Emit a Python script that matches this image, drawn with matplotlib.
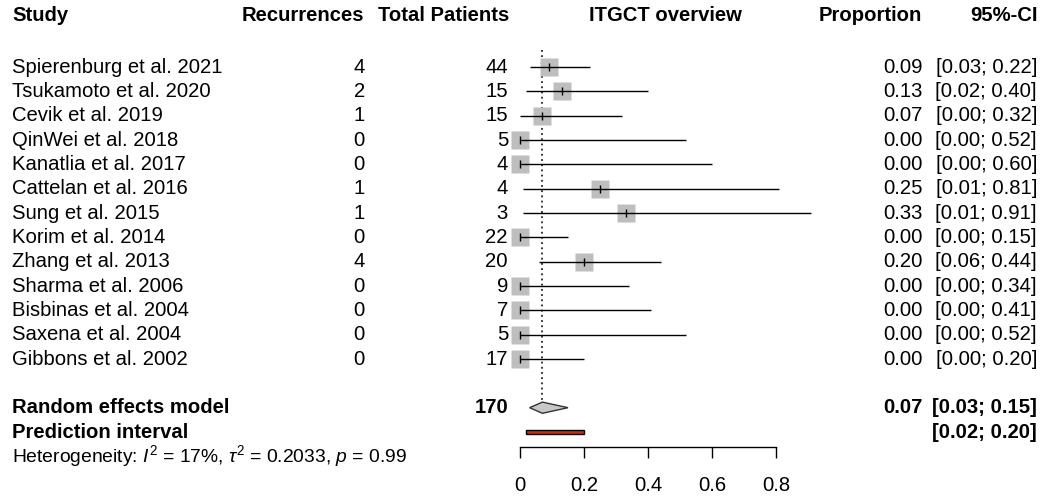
import matplotlib
matplotlib.use("Agg")
import matplotlib.pyplot as plt
import matplotlib.transforms as mtransforms

plt.rcParams["font.family"] = ["Liberation Sans", "DejaVu Sans"]
plt.rcParams["mathtext.fontset"] = "custom"
plt.rcParams["mathtext.rm"] = "Liberation Sans"
plt.rcParams["mathtext.it"] = "Liberation Sans:italic"

# --- data ---
studies = [
    "Spierenburg et al. 2021", "Tsukamoto et al. 2020", "Cevik et al. 2019",
    "QinWei et al. 2018", "Kanatlia et al. 2017", "Cattelan et al. 2016",
    "Sung et al. 2015", "Korim et al. 2014", "Zhang et al. 2013",
    "Sharma et al. 2006", "Bisbinas et al. 2004", "Saxena et al. 2004",
    "Gibbons et al. 2002",
]
events = [4, 2, 1, 0, 0, 1, 1, 0, 4, 0, 0, 0, 0]
totals = [44, 15, 15, 5, 4, 4, 3, 22, 20, 9, 7, 5, 17]
props = [0.09, 0.13, 0.07, 0.00, 0.00, 0.25, 0.33, 0.00, 0.20, 0.00, 0.00, 0.00, 0.00]
lower = [0.03, 0.02, 0.00, 0.00, 0.00, 0.01, 0.01, 0.00, 0.06, 0.00, 0.00, 0.00, 0.00]
upper = [0.22, 0.40, 0.32, 0.52, 0.60, 0.81, 0.91, 0.15, 0.44, 0.34, 0.41, 0.52, 0.20]

re_est, re_lo, re_hi = 0.07, 0.03, 0.15
pi_lo, pi_hi = 0.02, 0.20
total_n = 170
het_text = r"Heterogeneity: $I^2$ = 17%, $\tau^2$ = 0.2033, $p$ = 0.99"
xticks = [0, 0.2, 0.4, 0.6, 0.8]
xticklabels = ["0", "0.2", "0.4", "0.6", "0.8"]

# --- layout ---
W, H = 1058, 497
FS = 14.6
fig = plt.figure(figsize=(W / 100, H / 100), dpi=100)
ax = fig.add_axes([0, 0, 1, 1])
ax.set_xlim(-1.625, 1.68125)
ax.set_ylim(17.67, -2.754)
ax.axis("off")

tr = mtransforms.blended_transform_factory(fig.transFigure, ax.transData)

def col(xpx):
    return xpx / W

rows = list(range(len(studies)))
row_re = len(studies) + 1
row_pi = row_re + 1
row_het = row_pi + 1
row_head = -2.12

# headers
hdr = dict(fontsize=FS, fontweight="bold", va="center", transform=tr)
ax.text(col(12), row_head, "Study", ha="left", **hdr)
ax.text(col(364), row_head, "Recurrences", ha="right", **hdr)
ax.text(col(509), row_head, "Total Patients", ha="right", **hdr)
ax.text(col(665), row_head, "ITGCT overview", ha="center", **hdr)
ax.text(col(922), row_head, "Proportion", ha="right", **hdr)
ax.text(col(1038), row_head, "95%-CI", ha="right", **hdr)

# study rows
txt = dict(fontsize=FS, va="center", transform=tr)
for r, s, e, n, p, lo, hi in zip(rows, studies, events, totals, props, lower, upper):
    ax.text(col(12), r, s, ha="left", **txt)
    ax.text(col(365), r, str(e), ha="right", **txt)
    ax.text(col(508), r, str(n), ha="right", **txt)
    ax.text(col(923), r, f"{p:.2f}", ha="right", **txt)
    ax.text(col(1037), r, f"[{lo:.2f}; {hi:.2f}]", ha="right", **txt)

# reference line at pooled estimate
ax.plot([re_est, re_est], [-0.7, row_re - 0.23], color="black", lw=1.1,
        ls=(0, (1.2, 2.2)), zorder=1)

# squares + CIs
ax.plot(props, rows, ls="none", marker="s", markersize=13.2,
        color="#bebebe", mec="none", zorder=2)
ax.hlines(rows, lower, upper, color="black", lw=1.0, zorder=3)
ax.plot(props, rows, ls="none", marker="|", markersize=6, mew=1.0,
        color="black", zorder=4)

# random effects diamond
ax.fill([re_lo, re_est, re_hi, re_est], [row_re, row_re - 0.23, row_re, row_re + 0.23],
        facecolor="#c8c8c8", edgecolor="#333333", lw=1.0, zorder=3)
bold = dict(fontsize=FS, fontweight="bold", va="center", transform=tr)
ax.text(col(12), row_re, "Random effects model", ha="left", **bold)
ax.text(col(509), row_re, str(total_n), ha="right", **bold)
ax.text(col(923), row_re, f"{re_est:.2f}", ha="right", **bold)
ax.text(col(1037), row_re, f"[{re_lo:.2f}; {re_hi:.2f}]", ha="right", **bold)

# prediction interval
ax.fill([pi_lo, pi_hi, pi_hi, pi_lo],
        [row_pi - 0.1, row_pi - 0.1, row_pi + 0.1, row_pi + 0.1],
        facecolor="#d42a00", edgecolor="black", lw=1.0, zorder=3)
ax.text(col(12), row_pi, "Prediction interval", ha="left", **bold)
ax.text(col(1037), row_pi, f"[{pi_lo:.2f}; {pi_hi:.2f}]", ha="right", **bold)

# heterogeneity
ax.text(col(12), row_het, het_text, ha="left", fontsize=FS - 0.7, va="center", transform=tr)

# x axis
y_axis = 15.62
ax.plot([xticks[0], xticks[-1]], [y_axis, y_axis], color="black", lw=1.0)
ax.vlines(xticks, y_axis, y_axis + 0.45, color="black", lw=1.0)
for xt, lab in zip(xticks, xticklabels):
    ax.text(xt, 17.18, lab, ha="center", va="center", fontsize=FS)

fig.savefig("out.png", dpi=100)
